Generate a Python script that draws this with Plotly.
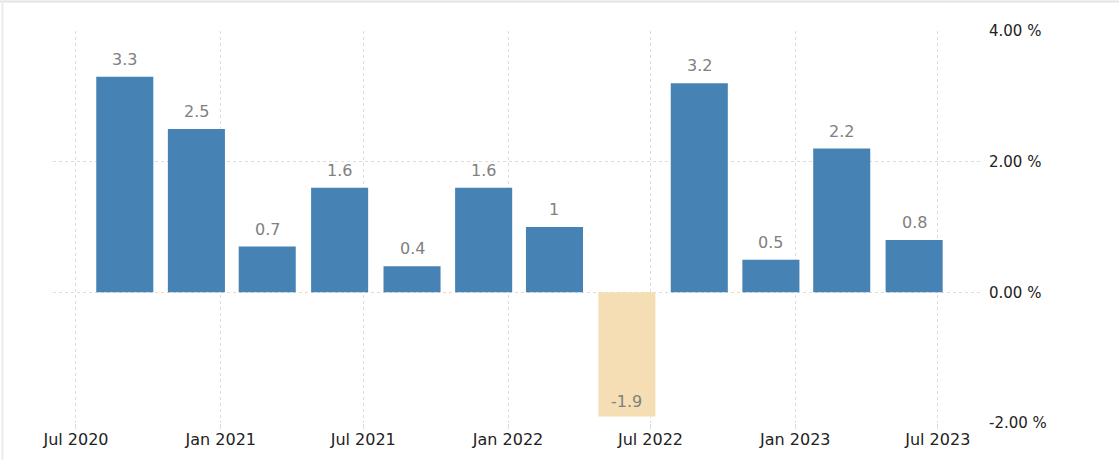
import plotly.graph_objects as go

# ---- data ----
quarters = ["2020-09-01", "2020-12-01", "2021-03-01", "2021-06-01", "2021-09-01", "2021-12-01",
            "2022-03-01", "2022-06-01", "2022-09-01", "2022-12-01", "2023-03-01", "2023-06-01"]
growth = [3.3, 2.5, 0.7, 1.6, 0.4, 1.6, 1, -1.9, 3.2, 0.5, 2.2, 0.8]
y_ticks = [-2, 0, 2, 4]
y_tick_labels = ["-2.00 %", "0.00 %", "2.00 %", "4.00 %"]

POS_COLOR = "#4682B4"
NEG_COLOR = "#F5DEB3"
DAY_MS = 86400000

W, H = 1119, 460
L, R, T, B = 53, 136, 31, 37
PW, PH = W - L - R, H - T - B

colors = [POS_COLOR if v >= 0 else NEG_COLOR for v in growth]
labels = [f"{v:g}" for v in growth]

fig = go.Figure()
fig.add_trace(go.Bar(
    x=quarters, y=growth,
    marker=dict(color=colors, line=dict(width=0)),
    width=72.5 * DAY_MS,
    hoverinfo="skip",
))

annotations = []
for q, v, lab in zip(quarters, growth, labels):
    annotations.append(dict(
        x=q, y=v, xref="x", yref="y", text=lab, showarrow=False,
        yanchor="bottom", yshift=6 if v >= 0 else 3,
        font=dict(family="DejaVu Sans", size=16, color="#808080"),
    ))


def px_x(p):
    return (p - L) / PW


def px_y(p):
    return (H - B - p) / PH


shapes = [
    dict(type="line", xref="paper", yref="paper", x0=px_x(0), x1=px_x(W), y0=px_y(1.5), y1=px_y(1.5),
         line=dict(color="#e3e3e3", width=2), layer="below"),
    dict(type="line", xref="paper", yref="paper", x0=px_x(2.5), x1=px_x(2.5), y0=px_y(0), y1=px_y(H),
         line=dict(color="#ececec", width=2), layer="below"),
]

fig.update_layout(
    width=W, height=H,
    margin=dict(l=L, r=R, t=T, b=B, pad=0, autoexpand=False),
    paper_bgcolor="white", plot_bgcolor="white",
    showlegend=False,
    annotations=annotations,
    shapes=shapes,
    font=dict(family="DejaVu Sans", color="#222222"),
    xaxis=dict(
        type="date", automargin=False,
        range=["2020-06-01 19:00", "2023-08-27 12:00"],
        tick0="2020-07-01", dtick="M6", tickformat="%b %Y",
        showgrid=True, gridcolor="#dcdcdc", griddash="dot", gridwidth=1,
        ticks="outside", ticklen=5, tickcolor="#dcdcdc", tickwidth=1,
        ticklabelstandoff=-3,
        tickfont=dict(family="DejaVu Sans", size=16, color="#222222"),
        showline=False, zeroline=False,
        fixedrange=True,
    ),
    yaxis=dict(
        side="right", automargin=False,
        range=[-2, 4],
        tickvals=y_ticks, ticktext=y_tick_labels,
        showgrid=True, gridcolor="#dcdcdc", griddash="dot", gridwidth=1,
        ticks="", ticklabelstandoff=5,
        tickfont=dict(family="DejaVu Sans", size=15, color="#222222"),
        showline=False, zeroline=False,
        fixedrange=True,
    ),
)

fig.write_html(
    "out.html",
    config={"displayModeBar": False},
    post_script="document.body.style.margin='0px';document.body.style.overflow='hidden';",
)
